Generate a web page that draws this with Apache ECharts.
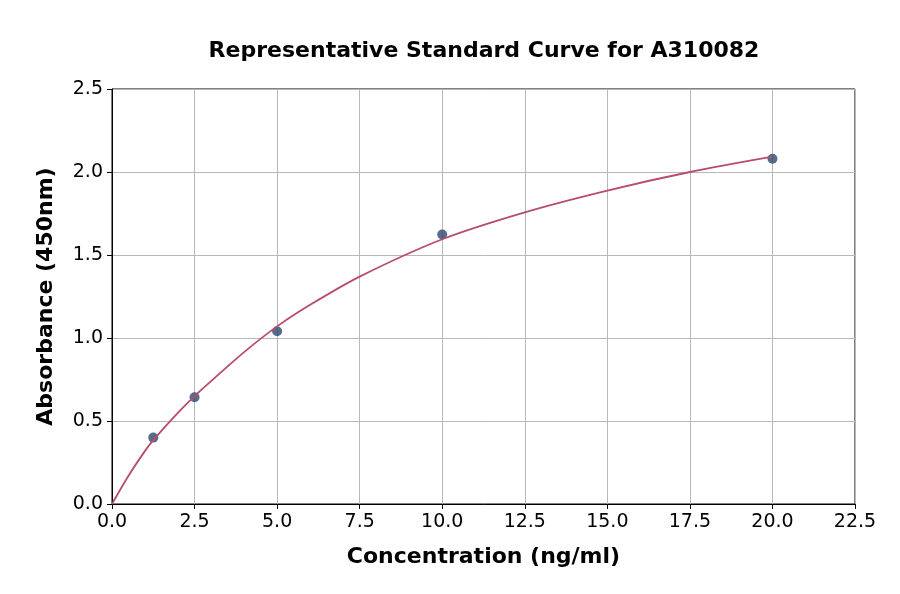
<!DOCTYPE html>
<html>
<head>
<meta charset="utf-8">
<script src="https://cdn.jsdelivr.net/npm/echarts@6/dist/echarts.min.js"></script>
<style>html,body{margin:0;padding:0;background:#fff;}#c{width:900px;height:594px;}</style>
</head>
<body>
<div id="c"></div>
<script>
var titleText = 'Representative Standard Curve for A310082';
var xName = 'Concentration (ng/ml)';
var yName = 'Absorbance (450nm)';
var pointX = [1.25, 2.5, 5, 10, 20];
var pointY = [0.40, 0.643, 1.041, 1.624, 2.08];
var curveX = [0, 0.5, 1, 1.25, 2, 2.5, 3, 4, 5, 6, 7.5, 10, 12.5, 15, 17.5, 20];
var curveY = [0, 0.17, 0.32, 0.385, 0.55, 0.65, 0.74, 0.915, 1.07, 1.20, 1.37, 1.595, 1.757, 1.888, 2.0, 2.092];

var font = 'DejaVu Sans';
var chart = echarts.init(document.getElementById('c'), null, {renderer: 'canvas'});
chart.setOption({
  animation: false,
  backgroundColor: '#fff',
  title: {
    text: titleText, left: 479, top: 35, textAlign: 'center',
    textStyle: {fontFamily: font, fontWeight: 'bold', fontSize: 22, color: '#000'}
  },
  grid: {left: 112, right: 45, top: 89, bottom: 90, containLabel: false,
    show: true, borderColor: '#000', borderWidth: 1},
  xAxis: {
    type: 'value', min: 0, max: 22.5, interval: 2.5,
    name: xName, nameLocation: 'middle', nameGap: 42,
    nameTextStyle: {fontFamily: font, fontWeight: 'bold', fontSize: 22, color: '#000'},
    axisLine: {show: true, onZero: false, lineStyle: {color: '#000', width: 1}},
    axisTick: {show: true, length: 5, lineStyle: {color: '#000'}},
    axisLabel: {fontFamily: font, fontSize: 19, color: '#000', margin: 9,
      formatter: function (v) { return v.toFixed(1); }},
    splitLine: {show: true, lineStyle: {color: '#b8b8b8', width: 1}}
  },
  yAxis: {
    type: 'value', min: 0, max: 2.5, interval: 0.5,
    name: yName, nameLocation: 'middle', nameGap: 55,
    nameTextStyle: {fontFamily: font, fontWeight: 'bold', fontSize: 22, color: '#000'},
    axisLine: {show: true, onZero: false, lineStyle: {color: '#000', width: 1}},
    axisTick: {show: true, length: 5, lineStyle: {color: '#000'}},
    axisLabel: {fontFamily: font, fontSize: 19, color: '#000', margin: 9,
      formatter: function (v) { return v.toFixed(1); }},
    splitLine: {show: true, lineStyle: {color: '#b8b8b8', width: 1}}
  },
  series: [
    {
      type: 'scatter', data: pointX.map(function (x, i) { return [x, pointY[i]]; }),
      symbolSize: 10, itemStyle: {color: '#2a486c'}, z: 2
    },
    {
      type: 'line', data: curveX.map(function (x, i) { return [x, curveY[i]]; }),
      smooth: 0.3, showSymbol: false, symbol: 'none',
      lineStyle: {color: '#b84b70', width: 1.8}, z: 3
    }
  ]
});
</script>
</body>
</html>
